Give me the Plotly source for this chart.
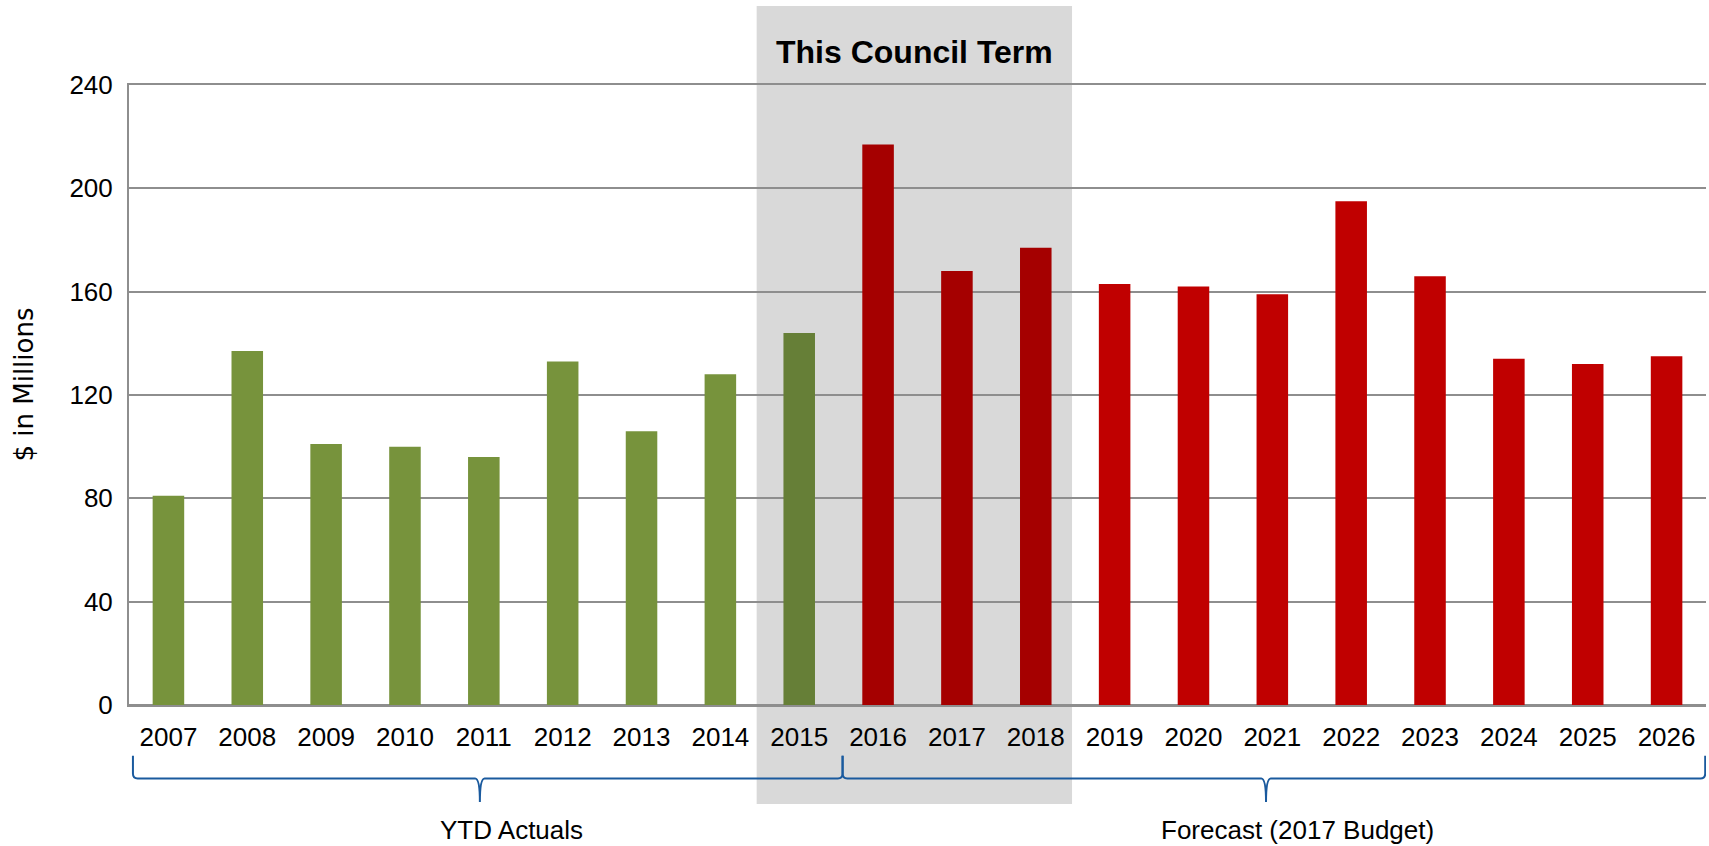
import plotly.graph_objects as go

# ---------------- data ----------------
years = [2007, 2008, 2009, 2010, 2011, 2012, 2013, 2014, 2015, 2016,
         2017, 2018, 2019, 2020, 2021, 2022, 2023, 2024, 2025, 2026]
spend_millions = [81, 137, 101, 100, 96, 133, 106, 128, 144, 217,
                  168, 177, 163, 162, 159, 195, 166, 134, 132, 135]
y_ticks = [0, 40, 80, 120, 160, 200, 240]
actual_last_year = 2015
council_term_years = [2015, 2016, 2017, 2018]
council_label = "This Council Term"
y_title = "$ in Millions"
group_labels = ["YTD Actuals", "Forecast (2017 Budget)"]
group_first = [2007, 2016]
group_last = [2015, 2026]

# ---------------- styles ----------------
GREEN = "#77933C"
GREEN_TERM = "#667F37"
RED_TERM = "#A50000"
RED = "#C00000"
GRID = "#8E8E8E"
SHADE = "#D9D9D9"
BRACE = "#1A5A9E"
FONT = "Arial, Liberation Sans, sans-serif"

colors = []
for yr in years:
    if yr <= actual_last_year:
        colors.append(GREEN_TERM if yr in council_term_years else GREEN)
    else:
        colors.append(RED_TERM if yr in council_term_years else RED)

fig = go.Figure(
    go.Bar(
        x=years,
        y=spend_millions,
        width=0.4,
        marker=dict(color=colors, line=dict(width=0)),
        hovertemplate="%{x}: %{y}<extra></extra>",
    )
)

# paper coordinates for decorations (plot area: y=0 at bottom, 1 at top)
brace_top, brace_mid, brace_tip = -0.082, -0.1185, -0.1565
shapes = []

# shaded council-term band
shapes.append(dict(
    type="rect", xref="x", yref="paper",
    x0=min(council_term_years) - 0.54, x1=max(council_term_years) + 0.46,
    y0=-0.1597, y1=1.1274,
    fillcolor=SHADE, line=dict(width=0), layer="below",
))

# curly braces under the axis
annotations = []
for i, label in enumerate(group_labels):
    x0 = group_first[i] - 0.45
    x1 = group_last[i] + (0.55 if i < len(group_labels) - 1 else 0.49)
    mid = (x0 + x1) / 2.0
    tip = mid - 0.1
    rx = 0.06
    ry = 0.008
    path = (
        f"M {x0},{brace_top} L {x0},{brace_mid + ry} "
        f"Q {x0},{brace_mid} {x0 + rx},{brace_mid} "
        f"L {tip - rx},{brace_mid} Q {tip},{brace_mid} {tip},{brace_tip} "
        f"Q {tip},{brace_mid} {tip + rx},{brace_mid} "
        f"L {x1 - rx},{brace_mid} Q {x1},{brace_mid} {x1},{brace_mid + ry} "
        f"L {x1},{brace_top}"
    )
    shapes.append(dict(type="path", xref="x", yref="paper", path=path,
                       line=dict(color=BRACE, width=2)))
    annotations.append(dict(
        x=mid + 0.3, y=-0.2016, xref="x", yref="paper",
        text=label, showarrow=False, xanchor="center", yanchor="middle",
        font=dict(family=FONT, size=26, color="#000000"),
    ))

# council term heading
annotations.append(dict(
    x=(min(council_term_years) - 0.54 + max(council_term_years) + 0.46) / 2.0,
    y=1.0532, xref="x", yref="paper",
    text=f"<b>{council_label}</b>", showarrow=False,
    xanchor="center", yanchor="middle",
    font=dict(family=FONT, size=32, color="#000000"),
))

# y axis title
annotations.append(dict(
    x=-0.0672, y=0.5169, xref="paper", yref="paper",
    text=y_title, showarrow=False, textangle=-90,
    xanchor="center", yanchor="middle",
    font=dict(family="DejaVu Sans, sans-serif", size=26, color="#000000"),
))

fig.update_layout(
    width=1709,
    height=846,
    margin=dict(l=129, r=3, t=85, b=141, pad=0),
    paper_bgcolor="white",
    plot_bgcolor="rgba(0,0,0,0)",
    showlegend=False,
    bargap=0.6,
    shapes=shapes,
    annotations=annotations,
    xaxis=dict(
        range=[min(years) - 0.5, max(years) + 0.5],
        tickmode="array", tickvals=years, ticktext=[str(y) for y in years],
        tickfont=dict(family=FONT, size=26, color="#000000"),
        showgrid=False, zeroline=False,
        showline=True, mirror=True, linecolor=GRID, linewidth=2,
        ticks="outside", ticklen=8, tickcolor="rgba(0,0,0,0)",
        fixedrange=True,
    ),
    yaxis=dict(
        range=[y_ticks[0], y_ticks[-1]],
        tickmode="array", tickvals=y_ticks,
        tickfont=dict(family=FONT, size=26, color="#000000"),
        showgrid=True, gridcolor=GRID, gridwidth=2,
        zeroline=True, zerolinecolor=GRID, zerolinewidth=2,
        showline=True, linecolor=GRID, linewidth=2,
        ticks="outside", ticklen=9, tickcolor="rgba(0,0,0,0)",
        fixedrange=True,
    ),
)

fig.write_html(
    "out.html",
    config={"displayModeBar": False},
    post_script="document.body.style.margin='0';document.body.style.overflow='hidden';",
)
